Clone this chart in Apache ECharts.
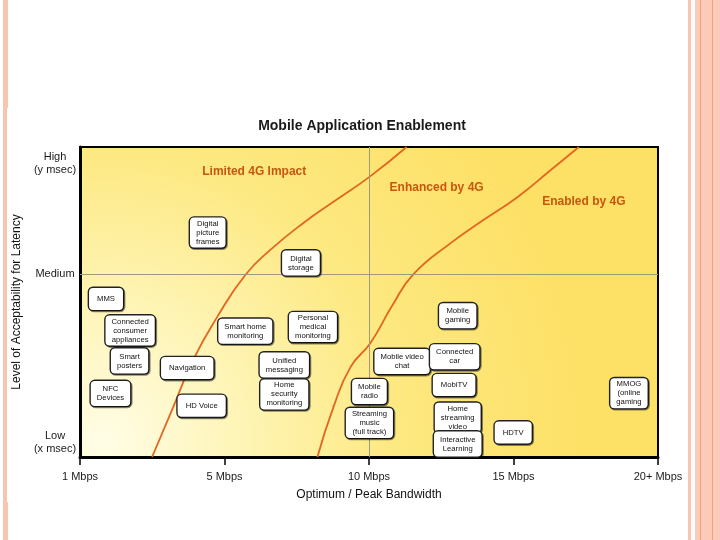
<!DOCTYPE html>
<html>
<head>
<meta charset="utf-8">
<script src="https://cdn.jsdelivr.net/npm/echarts@6/dist/echarts.min.js"></script>
<style>
html,body{margin:0;padding:0;background:#fff;}
#chart{width:720px;height:540px;}
</style>
</head>
<body>
<div id="chart"></div>
<script>
// ---------- data ----------
const xTickValues = [0, 1, 2, 3, 4];
const xTickLabels = ['1 Mbps', '5 Mbps', '10 Mbps', '15 Mbps', '20+ Mbps'];
const yTickValues = [4.7, 59, 94.7];
const yTickLabels = ['Low\n(x msec)', 'Medium', 'High\n(y msec)'];

const quadrantX = 2;   // 10 Mbps
const quadrantY = 59;  // Medium

const curve1X = [0.499, 0.645, 0.783, 0.950, 1.144, 1.317, 1.546, 1.782, 2.010, 2.260];
const curve1Y = [0, 16.1, 31.3, 45.2, 58.7, 66.8, 75.5, 83.2, 90.6, 100];
const curve2X = [1.643, 1.754, 1.872, 2.010, 2.163, 2.308, 2.565, 2.794, 3.029, 3.258, 3.452];
const curve2Y = [0, 16.1, 29.0, 36.8, 49.0, 59.0, 69.0, 76.5, 83.9, 92.6, 100];

const zoneNames = ['Limited 4G Impact', 'Enhanced by 4G', 'Enabled by 4G'];
const zoneX = [1.206, 2.468, 3.487];
const zoneY = [91.9, 86.8, 82.3];

const appNames = [
  'Digital\npicture\nframes', 'Digital\nstorage', 'MMS', 'Connected\nconsumer\nappliances',
  'Smart\nposters', 'NFC\nDevices', 'Navigation', 'HD Voice',
  'Smart home\nmonitoring', 'Personal\nmedical\nmonitoring', 'Unified\nmessaging', 'Home\nsecurity\nmonitoring',
  'Mobile video\nchat', 'Mobile\nradio', 'Streaming\nmusic\n(full track)', 'Mobile\ngaming',
  'Connected\ncar', 'MobiTV', 'Home\nstreaming\nvideo', 'Interactive\nLearning',
  'HDTV', 'MMOG\n(online\ngaming'
];
const appX = [0.884, 1.529, 0.180, 0.347, 0.343, 0.211, 0.742, 0.842, 1.144, 1.612, 1.414, 1.414,
  2.229, 2.003, 2.003, 2.614, 2.593, 2.589, 2.614, 2.614, 2.998, 3.799];
const appY = [72.4, 62.6, 51.0, 40.8, 31.0, 20.5, 28.7, 16.5, 40.6, 41.9, 29.7, 20.2,
  30.8, 21.1, 11.0, 45.6, 32.3, 23.2, 12.7, 4.2, 7.9, 20.6];

// ---------- chart ----------
const FONT = "'Liberation Sans', Arial, sans-serif";
const chart = echarts.init(document.getElementById('chart'));

function zip(xs, ys) { return xs.map((x, i) => [x, ys[i]]); }

const appData = appNames.map((n, i) => {
  const lines = n.split('\n').length;
  const pad = lines === 1 ? [6.5, 8] : (lines === 2 ? [3.5, 6] : [1.5, 6]);
  return { name: n, value: [appX[i], appY[i]], label: { padding: pad } };
});

const zoneData = zoneNames.map((n, i) => ({ name: n, value: [zoneX[i], zoneY[i]] }));

const option = {
  animation: false,
  backgroundColor: '#ffffff',
  textStyle: { fontFamily: FONT },
  title: {
    text: 'Mobile Application Enablement',
    left: 357, top: 114, textAlign: 'center',
    textStyle: { fontFamily: FONT, fontSize: 14, fontWeight: 'bold', color: '#1a1a1a' }
  },
  graphic: [
    { type: 'rect', left: 3, top: 0, shape: { width: 5, height: 540 }, style: { fill: '#f8c5b2' }, z: -10 },
    { type: 'rect', left: 7, top: 108, shape: { width: 2, height: 394 }, style: { fill: '#ffffff' }, z: -9 },
    { type: 'rect', left: 688, top: 0, shape: { width: 3, height: 540 }, style: { fill: '#f8c5b2' }, z: -10 },
    { type: 'rect', left: 695, top: 0, shape: { width: 25, height: 540 }, style: { fill: '#fbcab8' }, z: -10 },
    { type: 'rect', left: 700, top: 0, shape: { width: 1, height: 540 }, style: { fill: '#eea387' }, z: -9 },
    { type: 'rect', left: 712, top: 0, shape: { width: 1, height: 540 }, style: { fill: '#eea387' }, z: -9 }
  ],
  grid: {
    left: 80, right: 62, top: 147, bottom: 83,
    show: true,
    borderColor: '#000', borderWidth: 2,
    backgroundColor: {
      type: 'radial', x: 0.04, y: 0.95, r: 1.55,
      colorStops: [
        { offset: 0, color: '#fffde6' },
        { offset: 0.3, color: '#fef4b4' },
        { offset: 0.6, color: '#fde982' },
        { offset: 1, color: '#fde066' }
      ]
    }
  },
  xAxis: {
    type: 'value', min: 0, max: 4, interval: 1,
    name: 'Optimum / Peak Bandwidth', nameLocation: 'middle', nameGap: 32,
    nameTextStyle: { fontFamily: FONT, fontSize: 12, color: '#111' },
    axisLine: { show: true, lineStyle: { color: '#000', width: 3 } },
    axisTick: { show: true, length: 8, lineStyle: { color: '#000', width: 1.5 } },
    axisLabel: {
      margin: 14, fontFamily: FONT, fontSize: 11, color: '#1a1a1a',
      formatter: v => xTickLabels[xTickValues.indexOf(Math.round(v))] || ''
    },
    splitLine: { show: false }
  },
  yAxis: {
    type: 'value', min: 0, max: 100,
    name: 'Level of Acceptability for Latency', nameLocation: 'middle', nameGap: 56,
    nameTextStyle: { fontFamily: FONT, fontSize: 12, color: '#111' },
    axisLine: { show: true, lineStyle: { color: '#000', width: 3 } },
    axisTick: { show: false },
    axisLabel: {
      customValues: yTickValues,
      align: 'center', margin: 25, lineHeight: 13,
      fontFamily: FONT, fontSize: 11, color: '#1a1a1a',
      formatter: v => {
        const i = yTickValues.findIndex(t => Math.abs(t - v) < 0.01);
        return i >= 0 ? yTickLabels[i] : '';
      }
    },
    splitLine: { show: false }
  },
  series: [
    {
      type: 'line', data: [], silent: true, z: 1,
      markLine: {
        silent: true, symbol: 'none', label: { show: false },
        lineStyle: { color: '#9d9a7e', width: 1, type: 'solid' },
        data: [{ xAxis: quadrantX }, { yAxis: quadrantY }]
      }
    },
    {
      type: 'line', data: zip(curve1X, curve1Y), smooth: 0.5, showSymbol: false, z: 3,
      lineStyle: { color: '#e2661f', width: 1.8 }, silent: true
    },
    {
      type: 'line', data: zip(curve2X, curve2Y), smooth: 0.5, showSymbol: false, z: 3,
      lineStyle: { color: '#e2661f', width: 1.8 }, silent: true
    },
    {
      type: 'scatter', data: zoneData, symbolSize: 0, z: 4, silent: true,
      itemStyle: { opacity: 1 },
      label: {
        show: true, position: 'inside', formatter: '{b}', opacity: 1,
        fontFamily: FONT, fontSize: 12, fontWeight: 'bold', color: '#c9560f'
      }
    },
    {
      type: 'scatter', data: appData, symbolSize: 0, z: 5, silent: true,
      itemStyle: { opacity: 1 },
      label: {
        show: true, position: 'inside', formatter: '{b}', opacity: 1,
        fontFamily: FONT, fontSize: 7.7, lineHeight: 9, color: '#111',
        backgroundColor: '#ffffff', borderColor: '#222', borderWidth: 1.4, borderRadius: 4,
        shadowColor: 'rgba(0,0,0,0.45)', shadowOffsetX: 1, shadowOffsetY: 1, shadowBlur: 0
      },
      labelLayout: { hideOverlap: false }
    }
  ]
};
chart.setOption(option);
</script>
</body>
</html>
